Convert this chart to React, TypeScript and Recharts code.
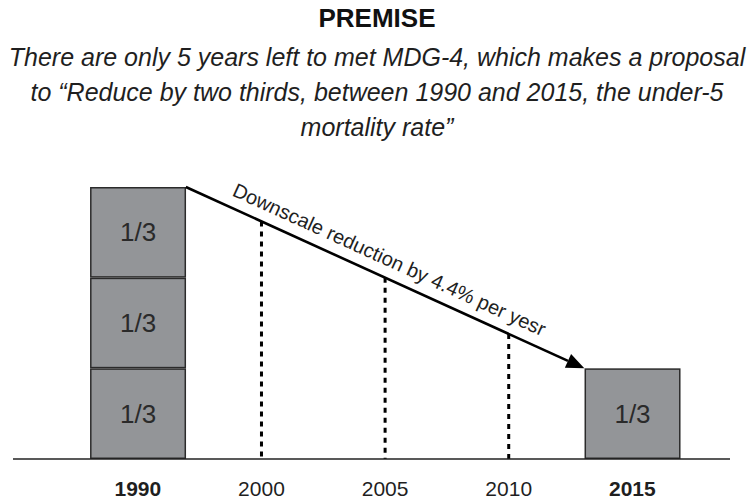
import { ComposedChart, Bar, XAxis, YAxis, ReferenceLine, LabelList } from 'recharts';

const years = ['1990', '2000', '2005', '2010', '2015'];
const boldYears = ['1990', '2015'];
const bottomThird = [1, 0, 0, 0, 1];
const middleThird = [1, 0, 0, 0, 0];
const topThird = [1, 0, 0, 0, 0];
const thirdLabel = '1/3';
// height of the reduction line above 2000 / 2005 / 2010
const guideLevels = [null, 2.62, 2.0, 1.38, null];
const startLevel = 3;
const targetLevel = 1;
const arrowText = 'Downscale reduction by 4.4% per yesr';

const W = 754;
const H = 500;
const margin = { top: 187, right: 24, bottom: 40, left: 13 };
const xDomain: [number, number] = [-1.01, 4.79];
const BAR = 96;
const halfBar = (BAR / 2) / ((W - margin.left - margin.right) / (xDomain[1] - xDomain[0]));

const data = years.map((year, i) => ({
  pos: i,
  year,
  bottom: bottomThird[i],
  middle: middleThird[i],
  top: topThird[i],
}));

const GRAY = '#939598';
const FONT = '"Liberation Sans", Arial, sans-serif';

function Segment(props: any) {
  const { x, y, width, height } = props;
  if (!height || height <= 0) return null;
  return (
    <rect x={x + 0.75} y={y + 0.75} width={width - 1.5} height={height - 1.5}
      fill={GRAY} stroke="#2b2b2b" strokeWidth={1.5} />
  );
}

function SegLabel(props: any) {
  const { x, y, width, height, value } = props;
  if (!value) return null;
  return (
    <text x={x + width / 2} y={y + height / 2} textAnchor="middle" dominantBaseline="central"
      fontFamily={FONT} fontSize={26} fill="#2a2a2a">{thirdLabel}</text>
  );
}

function YearTick(props: any) {
  const { x, y, payload } = props;
  const label = years[payload.value];
  const bold = boldYears.includes(label);
  return (
    <text x={x} y={y + 37} textAnchor="middle" fontFamily={FONT} fontSize={21}
      fontWeight={bold ? 700 : 400} fill="#1f1f1f">{label}</text>
  );
}

function Arrow(props: any) {
  const { x1, y1, x2, y2 } = props;
  const ang = Math.atan2(y2 - y1, x2 - x1);
  const len = 18;
  const hw = 7.5;
  const bx = x2 - len * Math.cos(ang);
  const by = y2 - len * Math.sin(ang);
  const nx = -Math.sin(ang);
  const ny = Math.cos(ang);
  const mx = (x1 + x2) / 2 - 4 - nx * 13;
  const my = (y1 + y2) / 2 - ny * 13;
  const deg = (ang * 180) / Math.PI;
  return (
    <g>
      <line x1={x1} y1={y1} x2={bx} y2={by} stroke="#000" strokeWidth={2.6} />
      <polygon points={`${x2},${y2} ${bx + nx * hw},${by + ny * hw} ${bx - nx * hw},${by - ny * hw}`} fill="#000" />
      <text x={mx} y={my} textAnchor="middle" fontFamily={FONT} fontSize={20} fill="#1f1f1f"
        transform={`rotate(${deg} ${mx} ${my})`}>{arrowText}</text>
    </g>
  );
}

export default function App() {
  return (
    <div style={{ position: 'absolute', top: 0, left: 0, width: W, height: H, background: '#fff', overflow: 'hidden' }}>
      <div style={{ position: 'absolute', top: 3, left: 0, width: W, textAlign: 'center',
        fontFamily: FONT, fontWeight: 700, fontSize: 26, color: '#111' }}>PREMISE</div>
      <div style={{ position: 'absolute', top: 40, left: 0, width: W, textAlign: 'center',
        fontFamily: FONT, fontStyle: 'italic', fontSize: 25, lineHeight: '35px', color: '#1f1f1f' }}>
        There are only 5 years left to met MDG-4, which makes a proposal<br />
        to “Reduce by two thirds, between 1990 and 2015, the under-5<br />
        mortality rate”
      </div>
      <div style={{ position: 'absolute', top: 0, left: 0 }}>
        <ComposedChart width={W} height={H} data={data} margin={margin}>
          <XAxis type="number" dataKey="pos" domain={xDomain} ticks={[0, 1, 2, 3, 4]} height={1}
            allowDataOverflow tick={<YearTick />} tickLine={false} tickSize={0} tickMargin={0}
            axisLine={{ stroke: '#222', strokeWidth: 1.6 }} interval={0} />
          <YAxis hide domain={[0, startLevel]} allowDataOverflow />
          <Bar dataKey="bottom" stackId="s" barSize={BAR} shape={<Segment />} isAnimationActive={false}>
            <LabelList dataKey="bottom" content={<SegLabel />} />
          </Bar>
          <Bar dataKey="middle" stackId="s" barSize={BAR} shape={<Segment />} isAnimationActive={false}>
            <LabelList dataKey="middle" content={<SegLabel />} />
          </Bar>
          <Bar dataKey="top" stackId="s" barSize={BAR} shape={<Segment />} isAnimationActive={false}>
            <LabelList dataKey="top" content={<SegLabel />} />
          </Bar>
          {guideLevels.map((lvl, i) =>
            lvl == null ? null : (
              <ReferenceLine key={years[i]} segment={[{ x: i, y: lvl }, { x: i, y: 0 }]}
                stroke="#000" strokeWidth={3} strokeDasharray="5 5" />
            )
          )}
          <ReferenceLine
            segment={[{ x: 0 + halfBar, y: startLevel }, { x: years.length - 1 - halfBar, y: targetLevel }]}
            shape={(p: any) => <Arrow {...p} />}
          />
        </ComposedChart>
      </div>
    </div>
  );
}
